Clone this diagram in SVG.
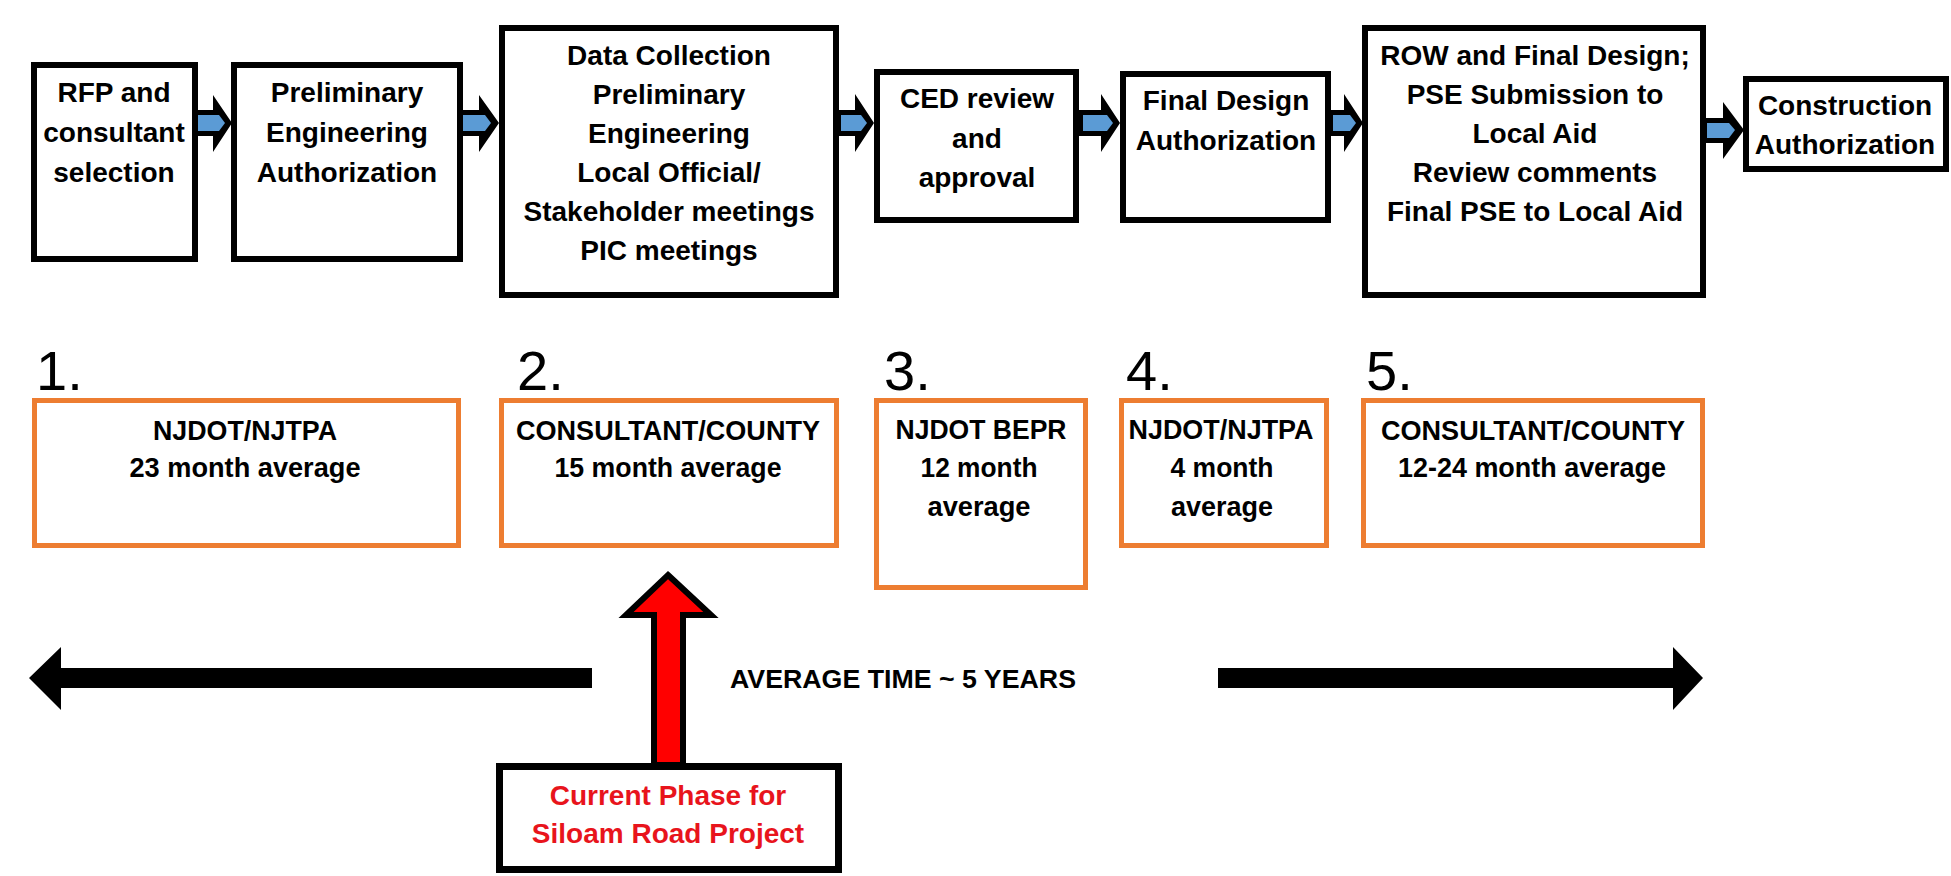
<svg xmlns="http://www.w3.org/2000/svg" width="1951" height="876" viewBox="0 0 1951 876">
<style>
.box{fill:#fff;stroke:#000;stroke-width:6}
.obox{fill:#fff;stroke:#ED7D31;stroke-width:5}
.t{font-family:"Liberation Sans",Arial,sans-serif;font-weight:bold;font-size:28px;fill:#000;text-anchor:middle}
.ot{font-family:"Liberation Sans",Arial,sans-serif;font-weight:bold;font-size:27px;fill:#000;text-anchor:middle}
.num{font-family:"Liberation Sans",Arial,sans-serif;font-size:56px;fill:#000}
.red{fill:#E8141C}
.ah{fill:#000}
.ab{fill:#5B9BD5}
</style>
<rect width="1951" height="876" fill="#fff"/>

<g id="connectors">
  <g id="arrow1"><polygon class="ah" points="192,110 213,110 213,95 232,123 213,152 213,136 192,136"/><polygon class="ab" points="195,115 219,115 225,123 219,131 195,131"/></g>
  <g id="arrow2"><polygon class="ah" points="457,110 479,110 479,95 499,123 479,152 479,136 457,136"/><polygon class="ab" points="462,115 485,115 491,123 485,131 462,131"/></g>
  <g id="arrow3"><polygon class="ah" points="836,110 855,110 855,94 874,123 855,152 855,136 836,136"/><polygon class="ab" points="841,115 861,115 867,123 861,131 841,131"/></g>
  <g id="arrow4"><polygon class="ah" points="1078,110 1101,110 1101,94 1120,123 1101,152 1101,136 1078,136"/><polygon class="ab" points="1083,115 1107,115 1113,123 1107,131 1083,131"/></g>
  <g id="arrow5"><polygon class="ah" points="1328,110 1344,110 1344,94 1363,123 1344,152 1344,136 1328,136"/><polygon class="ab" points="1333,115 1350,115 1356,123 1350,131 1333,131"/></g>
  <g id="arrow6"><polygon class="ah" points="1699,118 1723,118 1723,102 1744,130 1723,159 1723,143 1699,143"/><polygon class="ab" points="1707,123 1729,123 1735,130 1729,138 1707,138"/></g>
  <g id="time-left"><polygon fill="#000" points="29,678 61,647 61,668 592,668 592,688 61,688 61,710"/></g>
  <g id="time-right"><polygon fill="#000" points="1218,668 1673,668 1673,647 1703,678 1673,710 1673,688 1218,688"/></g>
  <g id="current-arrow"><polygon fill="#FF0000" stroke="#000" stroke-width="6" stroke-linejoin="miter" points="668,575 711,615 683,615 683,765 654,765 654,615 626,615"/></g>
</g>

<g id="n1"><rect class="box" x="34" y="65" width="161" height="194"/>
<text class="t" x="114" y="102">RFP and</text><text class="t" x="114" y="142">consultant</text><text class="t" x="114" y="182">selection</text></g>

<g id="n2"><rect class="box" x="234" y="65" width="226" height="194"/>
<text class="t" x="347" y="102">Preliminary</text><text class="t" x="347" y="142">Engineering</text><text class="t" x="347" y="182">Authorization</text></g>

<g id="n3"><rect class="box" x="502" y="28" width="334" height="267"/>
<text class="t" x="669" y="65">Data Collection</text><text class="t" x="669" y="104">Preliminary</text><text class="t" x="669" y="143">Engineering</text><text class="t" x="669" y="182">Local Official/</text><text class="t" x="669" y="221">Stakeholder meetings</text><text class="t" x="669" y="260">PIC meetings</text></g>

<g id="n4"><rect class="box" x="877" y="72" width="199" height="148"/>
<text class="t" x="977" y="108">CED review</text><text class="t" x="977" y="148">and</text><text class="t" x="977" y="187">approval</text></g>

<g id="n5"><rect class="box" x="1123" y="74" width="205" height="146"/>
<text class="t" x="1226" y="110">Final Design</text><text class="t" x="1226" y="150">Authorization</text></g>

<g id="n6"><rect class="box" x="1365" y="28" width="338" height="267"/>
<text class="t" x="1535" y="65">ROW and Final Design;</text><text class="t" x="1535" y="104">PSE Submission to</text><text class="t" x="1535" y="143">Local Aid</text><text class="t" x="1535" y="182">Review comments</text><text class="t" x="1535" y="221">Final PSE to Local Aid</text></g>

<g id="n7"><rect class="box" x="1746" y="79" width="200" height="90"/>
<text class="t" x="1845" y="115">Construction</text><text class="t" x="1845" y="154">Authorization</text></g>

<g id="p1"><text class="num" x="36" y="390">1.</text><rect class="obox" x="34.5" y="400.5" width="424" height="145"/>
<text class="ot" x="245" y="440" textLength="184" lengthAdjust="spacingAndGlyphs">NJDOT/NJTPA</text><text class="ot" x="245" y="477" textLength="231" lengthAdjust="spacingAndGlyphs">23 month average</text></g>

<g id="p2"><text class="num" x="517" y="390">2.</text><rect class="obox" x="501.5" y="400.5" width="335" height="145"/>
<text class="ot" x="668" y="440" textLength="304" lengthAdjust="spacingAndGlyphs">CONSULTANT/COUNTY</text><text class="ot" x="668" y="477" textLength="227" lengthAdjust="spacingAndGlyphs">15 month average</text></g>

<g id="p3"><text class="num" x="884" y="390">3.</text><rect class="obox" x="876.5" y="400.5" width="209" height="187"/>
<text class="ot" x="981" y="439" textLength="171" lengthAdjust="spacingAndGlyphs">NJDOT BEPR</text><text class="ot" x="979" y="477" textLength="117" lengthAdjust="spacingAndGlyphs">12 month</text><text class="ot" x="979" y="516" textLength="103" lengthAdjust="spacingAndGlyphs">average</text></g>

<g id="p4"><text class="num" x="1126" y="390">4.</text><rect class="obox" x="1121.5" y="400.5" width="205" height="145"/>
<text class="ot" x="1221" y="439" textLength="185" lengthAdjust="spacingAndGlyphs">NJDOT/NJTPA</text><text class="ot" x="1222" y="477" textLength="103" lengthAdjust="spacingAndGlyphs">4 month</text><text class="ot" x="1222" y="516" textLength="102" lengthAdjust="spacingAndGlyphs">average</text></g>

<g id="p5"><text class="num" x="1366" y="390">5.</text><rect class="obox" x="1363.5" y="400.5" width="339" height="145"/>
<text class="ot" x="1533" y="440" textLength="304" lengthAdjust="spacingAndGlyphs">CONSULTANT/COUNTY</text><text class="ot" x="1532" y="477" textLength="268" lengthAdjust="spacingAndGlyphs">12-24 month average</text></g>

<g id="time-label"><text x="730" y="688" font-family="'Liberation Sans',Arial,sans-serif" font-weight="bold" font-size="25" fill="#000" textLength="346" lengthAdjust="spacingAndGlyphs">AVERAGE TIME ~ 5 YEARS</text></g>

<g id="current"><rect fill="#fff" stroke="#000" stroke-width="7" x="499.5" y="766.5" width="339" height="103"/>
<text class="t red" x="668" y="805" font-size="26">Current Phase for</text><text class="t red" x="668" y="843" font-size="26">Siloam Road Project</text></g>
</svg>
